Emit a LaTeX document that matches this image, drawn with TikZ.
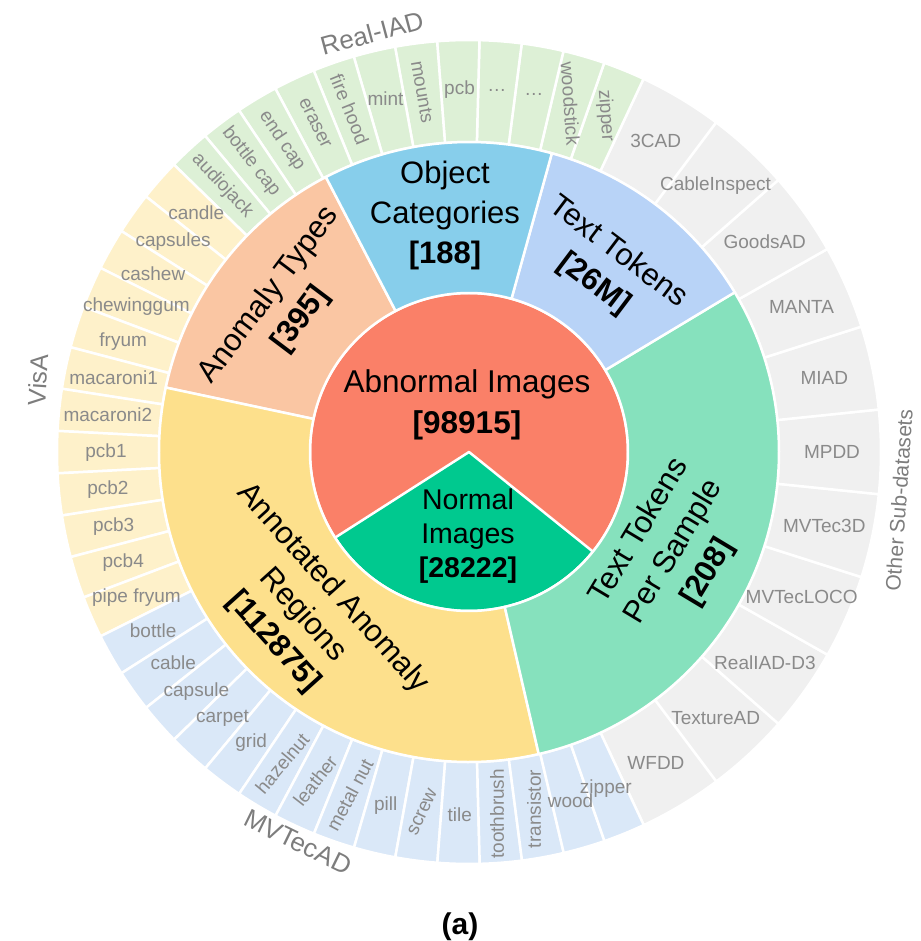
\documentclass[tikz,border=0pt]{standalone}
\usepackage{fontspec}
\setmainfont{Liberation Sans}

\definecolor{abnormalRed}{RGB}{250,128,104}
\definecolor{normalGreen}{RGB}{0,201,143}
\definecolor{objectBlue}{RGB}{135,206,235}
\definecolor{tokenBlue}{RGB}{184,211,247}
\definecolor{sampleGreen}{RGB}{134,225,189}
\definecolor{regionYellow}{RGB}{253,224,140}
\definecolor{typePeach}{RGB}{250,198,163}
\definecolor{realGreen}{RGB}{221,240,214}
\definecolor{visaYellow}{RGB}{254,241,202}
\definecolor{mvtecBlue}{RGB}{218,232,248}
\definecolor{otherGray}{RGB}{240,240,240}
\definecolor{labelGray}{RGB}{138,138,138}
\definecolor{groupGray}{RGB}{125,125,125}

\pgfdeclarelayer{bg}
\pgfsetlayers{bg,main}

\tikzset{
  sector/.style={draw=white, line width=2.5pt, line join=round},
  outerLabel/.style={text=labelGray, font=\fontsize{19}{19}\selectfont, inner sep=0pt},
  midLabel/.style={align=center, font=\fontsize{31}{40}\selectfont, inner sep=0pt},
  groupLabel/.style={text=groupGray, inner sep=0pt}
}

\begin{document}
\begin{tikzpicture}[x=1pt,y=1pt]
\pgfmathsetmacro{\rIn}{159}
\pgfmathsetmacro{\rMid}{310}
\pgfmathsetmacro{\rOut}{412}
\pgfmathsetmacro{\rLab}{363}
\pgfmathsetmacro{\unit}{360/61}
\pgfmathsetmacro{\otherStart}{-64.9}
\useasboundingbox (-469,-489) rectangle (451,452);

% Centre: abnormal / normal images
\filldraw[sector, fill=abnormalRed] (0,0) circle[radius=\rIn];
\filldraw[sector, fill=normalGreen] (0,0) -- (212.6:\rIn)
  arc[start angle=212.6, end angle=321.2, radius=\rIn] -- cycle;
\node[midLabel, font=\fontsize{31.5}{41}\selectfont] (abnormal) at (-2,47)
  {Abnormal Images\\\textbf{[98915]}};
\node[midLabel, font=\fontsize{28.5}{34}\selectfont] (normal) at (-1,-84)
  {Normal\\Images\\\textbf{[28222]}};

% Middle ring
\def\midRing{117.5/168/typePeach, 168/283/regionYellow, 283/391/sampleGreen,
             31/74.5/tokenBlue, 74.5/117.5/objectBlue}
\foreach \a/\b/\c in \midRing {
  \filldraw[sector, fill=\c] (\a:\rIn) arc[start angle=\a, end angle=\b, radius=\rIn]
    -- (\b:\rMid) arc[start angle=\b, end angle=\a, radius=\rMid] -- cycle;
}
% Object Categories
\node[midLabel] (objects) at (95.8:238) {Object\\Categories\\\textbf{[188]}};
% Text Tokens
\node[midLabel, rotate=-37] (tokens) at (53.3:229) {Text Tokens\\\textbf{[26M]}};
% Anomaly Types
\node[midLabel, rotate=53] (types) at (141.8:234) {Anomaly Types\\\textbf{[395]}};
% Annotated Anomaly Regions
\node[midLabel, rotate=-48] (regions) at (224.5:233)
  {Annotated Anomaly\\Regions\\\textbf{[112875]}};
% Text Tokens Per Sample
\node[midLabel, rotate=59] (perSample) at (-26:228)
  {Text Tokens\\Per Sample\\\textbf{[208]}};

% Outer ring: other sub-datasets (double width)
\def\otherList{WFDD, TextureAD, RealIAD-D3, MVTecLOCO, MVTec3D, MPDD, MIAD, MANTA,
               GoodsAD, CableInspect, 3CAD}
\foreach \txt [count=\i from 0] in \otherList {
  \pgfmathsetmacro{\a}{\otherStart+2*\i*\unit}
  \pgfmathsetmacro{\b}{\a+2*\unit}
  \pgfmathsetmacro{\m}{(\a+\b)/2}
  \begin{pgfonlayer}{bg}
  \filldraw[sector, fill=otherGray] (\a:\rMid) arc[start angle=\a, end angle=\b, radius=\rMid]
    -- (\b:\rOut) arc[start angle=\b, end angle=\a, radius=\rOut] -- cycle;
  \end{pgfonlayer}
  \node[outerLabel] (other\i) at (\m:\rLab) {\txt};
}

% Outer ring: Real-IAD
\def\realList{zipper/-86, woodstick/-86, …/0, …/0, pcb/0, mounts/-80, mint/0,
              fire hood/-68, eraser/-64, end cap/-56, bottle cap/-52, audiojack/-47}
\foreach \txt/\rot [count=\i from 0] in \realList {
  \pgfmathsetmacro{\a}{\otherStart+(22+\i)*\unit}
  \pgfmathsetmacro{\b}{\a+\unit}
  \pgfmathsetmacro{\m}{(\a+\b)/2}
  \begin{pgfonlayer}{bg}
  \filldraw[sector, fill=realGreen] (\a:\rMid) arc[start angle=\a, end angle=\b, radius=\rMid]
    -- (\b:\rOut) arc[start angle=\b, end angle=\a, radius=\rOut] -- cycle;
  \end{pgfonlayer}
  \node[outerLabel, rotate=\rot] (real\i) at (\m:\rLab) {\txt};
}

% Outer ring: VisA
\def\visaList{candle, capsules, cashew, chewinggum, fryum, macaroni1, macaroni2,
              pcb1, pcb2, pcb3, pcb4, pipe fryum}
\foreach \txt [count=\i from 0] in \visaList {
  \pgfmathsetmacro{\a}{\otherStart+(34+\i)*\unit}
  \pgfmathsetmacro{\b}{\a+\unit}
  \pgfmathsetmacro{\m}{(\a+\b)/2}
  \begin{pgfonlayer}{bg}
  \filldraw[sector, fill=visaYellow] (\a:\rMid) arc[start angle=\a, end angle=\b, radius=\rMid]
    -- (\b:\rOut) arc[start angle=\b, end angle=\a, radius=\rOut] -- cycle;
  \end{pgfonlayer}
  \node[outerLabel] (visa\i) at (\m:\rLab) {\txt};
}

% Outer ring: MVTecAD
\def\mvtecList{bottle/0, cable/0, capsule/0, carpet/0, grid/0, hazelnut/50, leather/52,
               metal nut/62, pill/0, screw/65, tile/0, toothbrush/90, transistor/90,
               wood/0, zipper/0}
\foreach \txt/\rot [count=\i from 0] in \mvtecList {
  \pgfmathsetmacro{\a}{\otherStart+(46+\i)*\unit}
  \pgfmathsetmacro{\b}{\a+\unit}
  \pgfmathsetmacro{\m}{(\a+\b)/2}
  \begin{pgfonlayer}{bg}
  \filldraw[sector, fill=mvtecBlue] (\a:\rMid) arc[start angle=\a, end angle=\b, radius=\rMid]
    -- (\b:\rOut) arc[start angle=\b, end angle=\a, radius=\rOut] -- cycle;
  \end{pgfonlayer}
  \node[outerLabel, rotate=\rot] (mvtec\i) at (\m:\rLab) {\txt};
}

% Dataset names round the outside
\node[groupLabel, font=\fontsize{26}{26}\selectfont, rotate=15] (realIAD) at (-97,419) {Real-IAD};
\node[groupLabel, font=\fontsize{25}{25}\selectfont, rotate=86] (visA) at (-431,72) {VisA};
\node[groupLabel, font=\fontsize{26}{26}\selectfont, rotate=-26] (mvtecAD) at (-171,-390) {MVTecAD};
\node[groupLabel, font=\fontsize{21}{21}\selectfont, rotate=86] (otherSub) at (430,-48)
  {Other Sub-datasets};

% Caption
\node[inner sep=0pt, font=\bfseries\fontsize{30}{30}\selectfont] (caption) at (-9,-475) {(a)};
\end{tikzpicture}
\end{document}
